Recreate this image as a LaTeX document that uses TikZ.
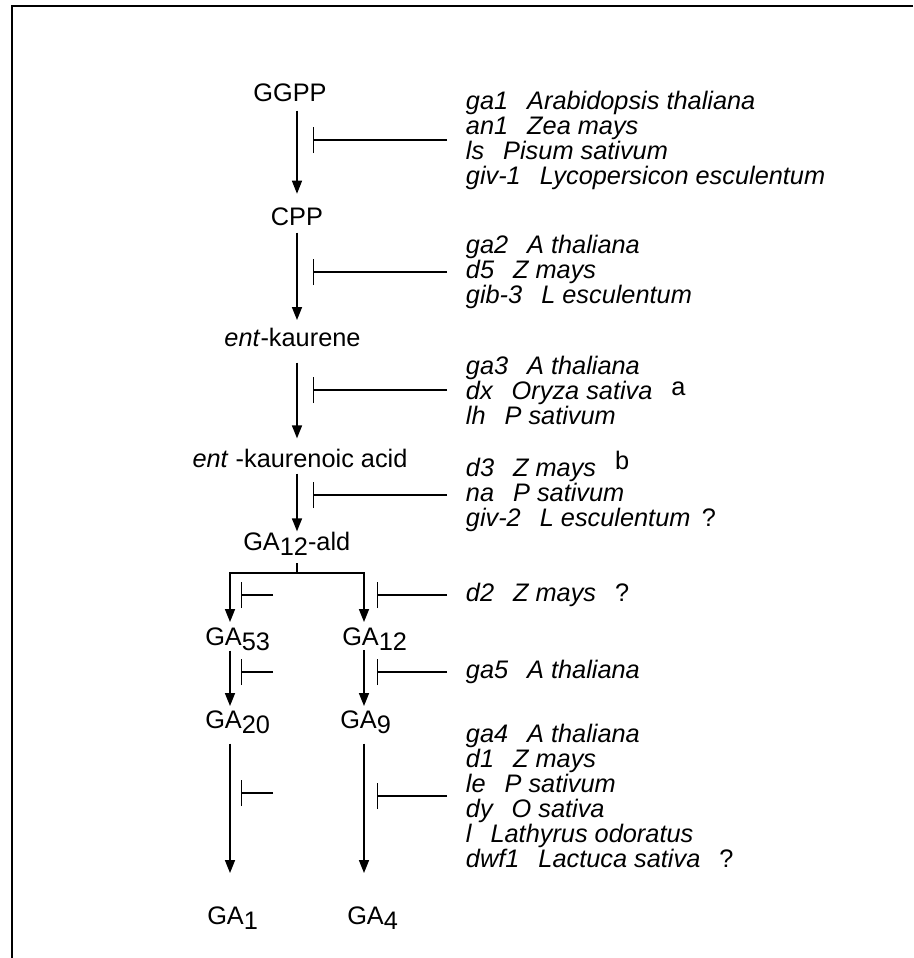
\documentclass[tikz,border=0pt]{standalone}
\usepackage{fontspec}
\setmainfont{Liberation Sans}
\usetikzlibrary{arrows.meta, positioning}

\newcommand{\gsp}{\hspace{0.75em}}
\newcommand{\subnum}[1]{\raisebox{-3.75pt}{#1}}
\newcommand{\remark}[3][0.75em]{\hspace{#1}\smash{\raisebox{#2}{\upshape #3}}}

\begin{document}
\begin{tikzpicture}[
    x=0.75pt, y=-0.75pt,
    font=\fontsize{19}{18.75}\selectfont,
    cmpd/.style={inner sep=0pt},
    genes/.style={font=\fontsize{19}{18.75}\selectfont\itshape, align=left,
        anchor=west, inner xsep=14pt, inner ysep=0pt},
    conv/.style={-{Triangle[length=9.75pt, width=7.5pt]}, line width=1.1pt},
    inhib/.style={-{Bar[width=19.5pt]}, line width=0.9pt}
]

\useasboundingbox (0,0) rectangle (914,958);
\draw[line width=1.6pt] (913,6) -- (12,6) -- (12,958);

% x of the arrows and of the bars
\coordinate (ax) at (297,0);
\coordinate (lx) at (230,0);
\coordinate (rx) at (364,0);
\coordinate (mb) at (313,0);
\coordinate (rb) at (377,0);
\coordinate (fork) at (297,573);

% compounds
\node[cmpd, anchor=base] (ggpp) at (290,101) {GGPP};
\node[cmpd, anchor=base] (cpp) at (297,225) {CPP};
\node[cmpd, anchor=base] (entk) at (292.5,346) {\textit{ent}-kaurene};
\node[cmpd, anchor=base] (entka) at (300,467) {\textit{ent} -kaurenoic acid};
\node[cmpd, anchor=base west] (ald) at (243,550) {GA\subnum{12}-ald};
\node[cmpd, anchor=base west] (ga53) at (205,645) {GA\subnum{53}};
\node[cmpd, anchor=base west] (ga12) at (342,645) {GA\subnum{12}};
\node[cmpd, anchor=base west] (ga20) at (205,728) {GA\subnum{20}};
\node[cmpd, anchor=base west] (ga9) at (340,728) {GA\subnum{9}};
\node[cmpd, anchor=base west] (ga1) at (207,924) {GA\subnum{1}};
\node[cmpd, anchor=base west] (ga4) at (347,924) {GA\subnum{4}};

% mutants
\node[genes] (g1) at (447,140) {ga1\gsp Arabidopsis thaliana\\ an1\gsp Zea mays\\
    ls\gsp Pisum sativum\\ giv-1\gsp Lycopersicon esculentum};
\node[genes] (g2) at (447,272) {ga2\gsp A thaliana\\ d5\gsp Z mays\\ gib-3\gsp L esculentum};
\node[genes] (g3) at (447,390) {ga3\gsp A thaliana\\ dx\gsp Oryza sativa\remark{3pt}{a}\\
    lh\gsp P sativum};
\node[genes] (g4) at (447,495) {d3\gsp Z mays\remark{5.5pt}{b}\\ na\gsp P sativum\\
    giv-2\gsp L esculentum\remark[0.45em]{0pt}{?}};
\node[genes] (g5) at (447,595) {d2\gsp Z mays\remark{0pt}{?}};
\node[genes] (g6) at (447,672) {ga5\gsp A thaliana};
\node[genes] (g7) at (447,796) {ga4\gsp A thaliana\\ d1\gsp Z mays\\ le\gsp P sativum\\
    dy\gsp O sativa\\ l\gsp Lathyrus odoratus\\ dwf1\gsp Lactuca sativa\remark{0pt}{?}};

\path[conv]
    (ggpp.south -| ax) edge [shorten <=6.75pt, shorten >=10pt] (cpp.north -| ax)
    (cpp.south -| ax) edge [shorten <=5.25pt, shorten >=5.5pt] (entk.north -| ax)
    (entk.south -| ax) edge [shorten <=12pt, shorten >=7.5pt] (entka.north -| ax)
    (entka.south -| ax) edge [shorten <=4.5pt] (ald.north -| ax)
    (ga53.south -| lx) edge [shorten >=3pt] (ga20.north -| lx)
    (ga12.south -| rx) edge [shorten >=3pt] (ga9.north -| rx)
    (ga20.south -| lx) edge [shorten <=7.5pt, shorten >=24.75pt] (ga1.north -| lx)
    (ga9.south -| rx) edge [shorten <=7.5pt, shorten >=24.75pt] (ga4.north -| rx)
    ;

\draw[line width=1.1pt, shorten <=6pt] (ald.south -| ax) -- (fork);
\draw[conv, shorten >=3.75pt] (fork) -| (ga53.north -| lx);
\draw[conv, shorten >=3.75pt] (fork) -| (ga12.north -| rx);

\foreach \g in {g1, g2, g3, g4}
    \draw[inhib] (\g.west) -- (\g.west -| mb);
\foreach \g in {g5, g6, g7}
    \draw[inhib] (\g.west) -- (\g.west -| rb);
\foreach \y in {595, 672, 793}
    \draw[inhib] (273,\y) -- (241,\y);

\end{tikzpicture}
\end{document}
